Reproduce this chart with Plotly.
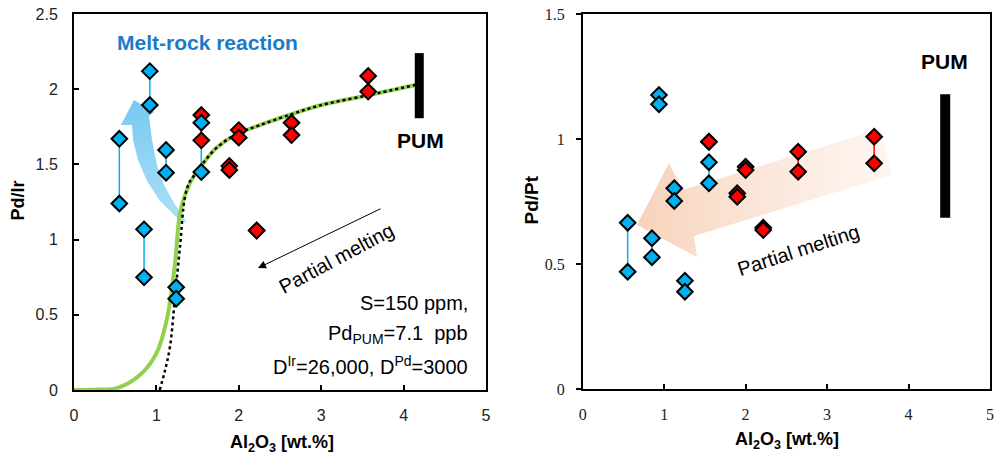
import plotly.graph_objects as go

# ---------------- data ----------------
# Left panel: Pd/Ir vs Al2O3
left_blue_x = [0.55, 0.92, 1.117, 0.85, 1.24, 1.545]
left_blue_hi = [1.67, 2.12, 1.596, 1.068, 0.683, 1.777]
left_blue_lo = [1.24, 1.895, 1.445, 0.749, 0.607, 1.449]
left_red_x = [1.545, 1.885, 2.0, 2.64, 3.57, 2.217]
left_red_hi = [1.828, 1.49, 1.728, 1.777, 2.088, 1.06]
left_red_lo = [1.66, 1.463, 1.678, 1.695, 1.984, 1.06]

# model curves (left panel)
green_x = [0.0, 0.30, 0.52, 0.80, 1.00, 1.125, 1.226, 1.286, 1.37, 1.45, 1.57, 1.73, 1.97, 2.25, 2.62, 2.97, 3.57, 4.16]
green_y = [0.0, 0.003, 0.013, 0.10, 0.244, 0.465, 0.84, 1.175, 1.33, 1.42, 1.51, 1.61, 1.70, 1.76, 1.83, 1.89, 1.96, 2.03]
dot_x = [1.04, 1.10, 1.165, 1.226, 1.286, 1.347, 1.40, 1.45, 1.57, 1.73, 1.97, 2.25, 2.62, 2.97, 3.57, 4.16]
dot_y = [0.0, 0.12, 0.288, 0.62, 0.95, 1.285, 1.38, 1.42, 1.51, 1.61, 1.70, 1.76, 1.83, 1.89, 1.96, 2.03]

# PUM ranges
pum_left_x = 4.19
pum_left_range = [1.807, 2.24]
pum_right_x = 4.45
pum_right_range = [0.685, 1.179]

# Right panel: Pd/Pt vs Al2O3
right_blue_x = [0.552, 0.936, 1.124, 0.85, 1.255, 1.55]
right_blue_hi = [0.665, 1.176, 0.803, 0.603, 0.433, 0.907]
right_blue_lo = [0.469, 1.139, 0.752, 0.527, 0.389, 0.823]
right_red_x = [1.55, 1.897, 2.0, 2.645, 3.578, 2.216]
right_red_hi = [0.989, 0.783, 0.889, 0.949, 1.009, 0.645]
right_red_lo = [0.989, 0.769, 0.876, 0.869, 0.903, 0.636]

# decorative arrow outlines
melt_arrow_x = [0.728, 0.971, 0.910, 0.947, 1.007, 1.092, 1.214, 1.371, 1.238, 1.044, 0.886, 0.777, 0.716, 0.704, 0.570, 0.728]
melt_arrow_y = [1.928, 1.848, 1.822, 1.662, 1.496, 1.363, 1.243, 1.110, 1.150, 1.257, 1.390, 1.529, 1.662, 1.762, 1.762, 1.928]
pm_arrow_x = [0.666, 1.059, 1.231, 3.648, 3.797, 1.365, 1.402, 0.666]
pm_arrow_y = [0.656, 0.904, 0.796, 1.040, 0.856, 0.612, 0.528, 0.656]

BLUE = "#00b0f0"
RED = "#ff0000"
SANS = "Liberation Sans, Arial, sans-serif"
SERIF = "Liberation Serif, Times New Roman, serif"

fig = go.Figure()


def pair_traces(xs, his, los, color, xa, ya):
    lx, ly = [], []
    for x, h, l in zip(xs, his, los):
        lx += [x, x, None]
        ly += [h, l, None]
    fig.add_trace(go.Scatter(x=lx, y=ly, mode="lines", line=dict(color=color, width=1.5),
                             xaxis=xa, yaxis=ya, hoverinfo="skip", showlegend=False))


def marker_trace(xs, his, los, color, xa, ya):
    mx, my = [], []
    for x, h, l in zip(xs, his, los):
        mx += [x, x]
        my += [h, l]
    fig.add_trace(go.Scatter(x=mx, y=my, mode="markers",
                             marker=dict(symbol="diamond", size=12, color=color,
                                         line=dict(color="black", width=2)),
                             xaxis=xa, yaxis=ya, showlegend=False))


# --- left panel decorations
fig.add_trace(go.Scatter(x=melt_arrow_x, y=melt_arrow_y, mode="lines", fill="toself",
                         line=dict(width=0, color="rgba(0,0,0,0)"),
                         fillgradient=dict(type="vertical",
                                           colorscale=[[0, "rgba(160,220,245,0.9)"], [1, "rgba(120,200,240,1)"]]),
                         xaxis="x", yaxis="y", hoverinfo="skip", showlegend=False))
# --- right panel decoration
fig.add_trace(go.Scatter(x=pm_arrow_x, y=pm_arrow_y, mode="lines", fill="toself",
                         line=dict(width=0, color="rgba(0,0,0,0)"),
                         fillgradient=dict(type="horizontal",
                                           colorscale=[[0, "rgba(246,205,178,0.9)"], [1, "rgba(253,240,232,0.6)"]]),
                         xaxis="x2", yaxis="y2", hoverinfo="skip", showlegend=False))

# curves
fig.add_trace(go.Scatter(x=green_x, y=green_y, mode="lines", line=dict(color="#92d050", width=4, shape="spline"),
                         xaxis="x", yaxis="y", hoverinfo="skip", showlegend=False))
fig.add_trace(go.Scatter(x=dot_x, y=dot_y, mode="lines", line=dict(color="black", width=2.5, dash="dot", shape="spline"),
                         xaxis="x", yaxis="y", hoverinfo="skip", showlegend=False))

# PUM bars
fig.add_trace(go.Scatter(x=[pum_left_x, pum_left_x], y=pum_left_range, mode="lines",
                         line=dict(color="black", width=9), xaxis="x", yaxis="y",
                         hoverinfo="skip", showlegend=False))
fig.add_trace(go.Scatter(x=[pum_right_x, pum_right_x], y=pum_right_range, mode="lines",
                         line=dict(color="black", width=10), xaxis="x2", yaxis="y2",
                         hoverinfo="skip", showlegend=False))

# tie lines + markers
pair_traces(left_red_x, left_red_hi, left_red_lo, RED, "x", "y")
pair_traces(left_blue_x, left_blue_hi, left_blue_lo, BLUE, "x", "y")
pair_traces(right_red_x, right_red_hi, right_red_lo, RED, "x2", "y2")
pair_traces(right_blue_x, right_blue_hi, right_blue_lo, BLUE, "x2", "y2")
marker_trace(left_red_x, left_red_hi, left_red_lo, RED, "x", "y")
marker_trace(left_blue_x, left_blue_hi, left_blue_lo, BLUE, "x", "y")
marker_trace(right_red_x, right_red_hi, right_red_lo, RED, "x2", "y2")
marker_trace(right_blue_x, right_blue_hi, right_blue_lo, BLUE, "x2", "y2")

W, H = 1000, 459
axis_common = dict(showgrid=False, zeroline=False, showline=True, mirror=True, automargin=False,
                   linecolor="black", tickcolor="black", ticklen=5, tickwidth=1.5)

fig.update_layout(
    width=W, height=H, margin=dict(l=0, r=0, t=0, b=0, autoexpand=False),
    paper_bgcolor="white", plot_bgcolor="white", showlegend=False,
    xaxis=dict(domain=[74 / W, 486 / W], range=[0, 5], dtick=1, ticks="inside", linewidth=2,
               tickfont=dict(family=SANS, size=16, color="#222"), anchor="y",
               ticklabelstandoff=10, **axis_common),
    yaxis=dict(domain=[(H - 390) / H, (H - 14) / H], range=[0, 2.5], dtick=0.5, ticks="inside", linewidth=2,
               tickfont=dict(family=SANS, size=16, color="#222"), anchor="x",
               ticklabelstandoff=11, **axis_common),
    xaxis2=dict(domain=[582.7 / W, 990 / W], range=[0, 5], dtick=1, ticks="inside", linewidth=1.5,
                tickfont=dict(family=SERIF, size=16, color="#222"), anchor="y2",
                ticklabelstandoff=10, **axis_common),
    yaxis2=dict(domain=[(H - 389) / H, (H - 14) / H], range=[0, 1.5], dtick=0.5, ticks="outside", linewidth=1.5,
                tickfont=dict(family=SERIF, size=16, color="#222"), anchor="x2",
                ticklabelstandoff=8, **axis_common),
)

C = dict(xanchor="center", yanchor="middle", showarrow=False)
ann = []
# axis titles
ann.append(dict(text="<b>Pd/Ir</b>", x=17.5 / W, y=(H - 201) / H, xref="paper", yref="paper",
                textangle=-90, font=dict(family=SANS, size=18, color="black"), **C))
ann.append(dict(text="<b>Al<sub>2</sub>O<sub>3</sub> [wt.%]</b>", x=282 / W, y=(H - 443) / H,
                xref="paper", yref="paper", font=dict(family=SANS, size=18, color="black"), **C))
ann.append(dict(text="<b>Pd/Pt</b>", x=530.5 / W, y=(H - 200) / H, xref="paper", yref="paper",
                textangle=-90, font=dict(family=SANS, size=19, color="black"), **C))
ann.append(dict(text="<b>Al<sub>2</sub>O<sub>3</sub> [wt.%]</b>", x=786.7 / W, y=(H - 440) / H,
                xref="paper", yref="paper", font=dict(family=SANS, size=18, color="black"), **C))

# left panel texts
ann.append(dict(text="<b>Melt-rock reaction</b>", x=1.626, y=2.309, xref="x", yref="y",
                font=dict(family=SANS, size=21, color="#1b7bc8"), **C))
ann.append(dict(text="<b>PUM</b>", x=4.2, y=1.662, xref="x", yref="y",
                font=dict(family=SANS, size=21, color="black"), **C))
ann.append(dict(text="Partial melting", x=3.19, y=0.878, xref="x", yref="y", textangle=-28,
                font=dict(family=SANS, size=20, color="black"), **C))
ann.append(dict(x=2.233, y=0.811, ax=3.738, ay=1.21, xref="x", yref="y", axref="x", ayref="y",
                text="", showarrow=True, arrowhead=2, arrowsize=1.6, arrowwidth=1, arrowcolor="black"))
R = dict(xanchor="right", yanchor="middle", showarrow=False)
ann.append(dict(text="S=150 ppm,", x=4.806, y=0.578, xref="x", yref="y",
                font=dict(family=SANS, size=20, color="black"), **R))
ann.append(dict(text="Pd<sub>PUM</sub>=7.1  ppb", x=4.806, y=0.366, xref="x", yref="y",
                font=dict(family=SANS, size=20, color="black"), **R))
ann.append(dict(text="D<sup>Ir</sup>=26,000, D<sup>Pd</sup>=3000", x=4.806, y=0.166, xref="x", yref="y",
                font=dict(family=SANS, size=20, color="black"), **R))

# right panel texts
ann.append(dict(text="<b>PUM</b>", x=4.445, y=1.308, xref="x2", yref="y2",
                font=dict(family=SANS, size=21, color="black"), **C))
ann.append(dict(text="Partial melting", x=2.652, y=0.556, xref="x2", yref="y2", textangle=-18,
                font=dict(family=SANS, size=20, color="black"), **C))

fig.update_layout(annotations=ann)
fig.write_html("out.html")
